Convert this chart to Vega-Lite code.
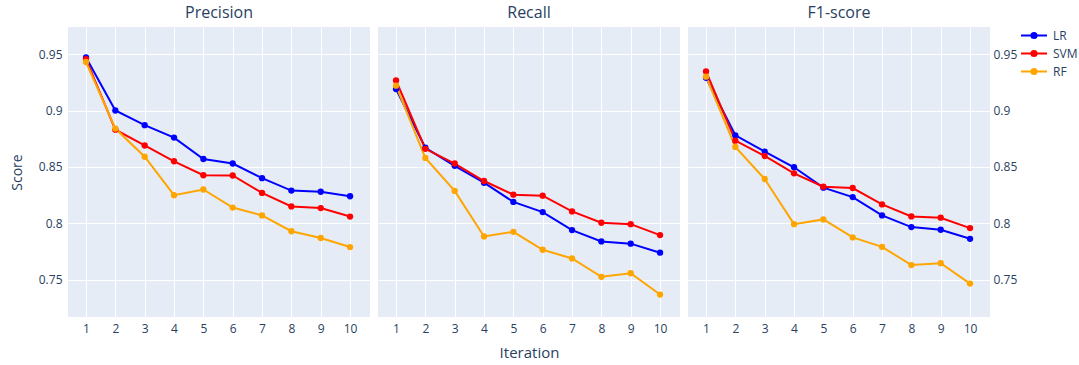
{
  "$schema": "https://vega.github.io/schema/vega-lite/v6.json",
  "background": "white",
  "padding": {"left": 10, "top": 5, "right": 0, "bottom": 0},
  "config": {
    "font": "Open Sans",
    "view": {"fill": "#E5ECF6", "stroke": null},
    "axis": {"domain": false, "ticks": false, "gridColor": "white", "gridWidth": 1, "labelColor": "#2a3f5f", "labelFontSize": 12, "titleColor": "#2a3f5f", "titleFontWeight": "normal", "labelFont": "Open Sans", "titleFont": "Open Sans"},
    "title": {"fontSize": 16, "fontWeight": "normal", "color": "#2a3f5f", "font": "Open Sans", "offset": 6},
    "legend": {"labelColor": "#2a3f5f", "labelFontSize": 12, "labelFont": "Open Sans"}
  },
  "data": {"values": [
    {"metric": "Precision", "model": "LR", "iteration": 1, "score": 0.947},
    {"metric": "Precision", "model": "LR", "iteration": 2, "score": 0.900},
    {"metric": "Precision", "model": "LR", "iteration": 3, "score": 0.887},
    {"metric": "Precision", "model": "LR", "iteration": 4, "score": 0.876},
    {"metric": "Precision", "model": "LR", "iteration": 5, "score": 0.857},
    {"metric": "Precision", "model": "LR", "iteration": 6, "score": 0.853},
    {"metric": "Precision", "model": "LR", "iteration": 7, "score": 0.840},
    {"metric": "Precision", "model": "LR", "iteration": 8, "score": 0.829},
    {"metric": "Precision", "model": "LR", "iteration": 9, "score": 0.828},
    {"metric": "Precision", "model": "LR", "iteration": 10, "score": 0.824},
    {"metric": "Precision", "model": "SVM", "iteration": 1, "score": 0.9456},
    {"metric": "Precision", "model": "SVM", "iteration": 2, "score": 0.883},
    {"metric": "Precision", "model": "SVM", "iteration": 3, "score": 0.869},
    {"metric": "Precision", "model": "SVM", "iteration": 4, "score": 0.855},
    {"metric": "Precision", "model": "SVM", "iteration": 5, "score": 0.8426},
    {"metric": "Precision", "model": "SVM", "iteration": 6, "score": 0.8424},
    {"metric": "Precision", "model": "SVM", "iteration": 7, "score": 0.827},
    {"metric": "Precision", "model": "SVM", "iteration": 8, "score": 0.815},
    {"metric": "Precision", "model": "SVM", "iteration": 9, "score": 0.8135},
    {"metric": "Precision", "model": "SVM", "iteration": 10, "score": 0.806},
    {"metric": "Precision", "model": "RF", "iteration": 1, "score": 0.943},
    {"metric": "Precision", "model": "RF", "iteration": 2, "score": 0.884},
    {"metric": "Precision", "model": "RF", "iteration": 3, "score": 0.859},
    {"metric": "Precision", "model": "RF", "iteration": 4, "score": 0.825},
    {"metric": "Precision", "model": "RF", "iteration": 5, "score": 0.830},
    {"metric": "Precision", "model": "RF", "iteration": 6, "score": 0.814},
    {"metric": "Precision", "model": "RF", "iteration": 7, "score": 0.807},
    {"metric": "Precision", "model": "RF", "iteration": 8, "score": 0.793},
    {"metric": "Precision", "model": "RF", "iteration": 9, "score": 0.787},
    {"metric": "Precision", "model": "RF", "iteration": 10, "score": 0.779},
    {"metric": "Recall", "model": "LR", "iteration": 1, "score": 0.919},
    {"metric": "Recall", "model": "LR", "iteration": 2, "score": 0.867},
    {"metric": "Recall", "model": "LR", "iteration": 3, "score": 0.851},
    {"metric": "Recall", "model": "LR", "iteration": 4, "score": 0.836},
    {"metric": "Recall", "model": "LR", "iteration": 5, "score": 0.819},
    {"metric": "Recall", "model": "LR", "iteration": 6, "score": 0.810},
    {"metric": "Recall", "model": "LR", "iteration": 7, "score": 0.794},
    {"metric": "Recall", "model": "LR", "iteration": 8, "score": 0.784},
    {"metric": "Recall", "model": "LR", "iteration": 9, "score": 0.782},
    {"metric": "Recall", "model": "LR", "iteration": 10, "score": 0.774},
    {"metric": "Recall", "model": "SVM", "iteration": 1, "score": 0.9266},
    {"metric": "Recall", "model": "SVM", "iteration": 2, "score": 0.866},
    {"metric": "Recall", "model": "SVM", "iteration": 3, "score": 0.853},
    {"metric": "Recall", "model": "SVM", "iteration": 4, "score": 0.8375},
    {"metric": "Recall", "model": "SVM", "iteration": 5, "score": 0.8254},
    {"metric": "Recall", "model": "SVM", "iteration": 6, "score": 0.8245},
    {"metric": "Recall", "model": "SVM", "iteration": 7, "score": 0.8106},
    {"metric": "Recall", "model": "SVM", "iteration": 8, "score": 0.8005},
    {"metric": "Recall", "model": "SVM", "iteration": 9, "score": 0.7993},
    {"metric": "Recall", "model": "SVM", "iteration": 10, "score": 0.7896},
    {"metric": "Recall", "model": "RF", "iteration": 1, "score": 0.922},
    {"metric": "Recall", "model": "RF", "iteration": 2, "score": 0.858},
    {"metric": "Recall", "model": "RF", "iteration": 3, "score": 0.8287},
    {"metric": "Recall", "model": "RF", "iteration": 4, "score": 0.7884},
    {"metric": "Recall", "model": "RF", "iteration": 5, "score": 0.7925},
    {"metric": "Recall", "model": "RF", "iteration": 6, "score": 0.7766},
    {"metric": "Recall", "model": "RF", "iteration": 7, "score": 0.7689},
    {"metric": "Recall", "model": "RF", "iteration": 8, "score": 0.7526},
    {"metric": "Recall", "model": "RF", "iteration": 9, "score": 0.7558},
    {"metric": "Recall", "model": "RF", "iteration": 10, "score": 0.7369},
    {"metric": "F1-score", "model": "LR", "iteration": 1, "score": 0.929},
    {"metric": "F1-score", "model": "LR", "iteration": 2, "score": 0.878},
    {"metric": "F1-score", "model": "LR", "iteration": 3, "score": 0.8636},
    {"metric": "F1-score", "model": "LR", "iteration": 4, "score": 0.8497},
    {"metric": "F1-score", "model": "LR", "iteration": 5, "score": 0.8316},
    {"metric": "F1-score", "model": "LR", "iteration": 6, "score": 0.8233},
    {"metric": "F1-score", "model": "LR", "iteration": 7, "score": 0.807},
    {"metric": "F1-score", "model": "LR", "iteration": 8, "score": 0.7967},
    {"metric": "F1-score", "model": "LR", "iteration": 9, "score": 0.7943},
    {"metric": "F1-score", "model": "LR", "iteration": 10, "score": 0.7863},
    {"metric": "F1-score", "model": "SVM", "iteration": 1, "score": 0.9346},
    {"metric": "F1-score", "model": "SVM", "iteration": 2, "score": 0.8733},
    {"metric": "F1-score", "model": "SVM", "iteration": 3, "score": 0.8597},
    {"metric": "F1-score", "model": "SVM", "iteration": 4, "score": 0.8443},
    {"metric": "F1-score", "model": "SVM", "iteration": 5, "score": 0.8325},
    {"metric": "F1-score", "model": "SVM", "iteration": 6, "score": 0.8313},
    {"metric": "F1-score", "model": "SVM", "iteration": 7, "score": 0.8168},
    {"metric": "F1-score", "model": "SVM", "iteration": 8, "score": 0.8061},
    {"metric": "F1-score", "model": "SVM", "iteration": 9, "score": 0.805},
    {"metric": "F1-score", "model": "SVM", "iteration": 10, "score": 0.7958},
    {"metric": "F1-score", "model": "RF", "iteration": 1, "score": 0.930},
    {"metric": "F1-score", "model": "RF", "iteration": 2, "score": 0.8677},
    {"metric": "F1-score", "model": "RF", "iteration": 3, "score": 0.8393},
    {"metric": "F1-score", "model": "RF", "iteration": 4, "score": 0.7993},
    {"metric": "F1-score", "model": "RF", "iteration": 5, "score": 0.8035},
    {"metric": "F1-score", "model": "RF", "iteration": 6, "score": 0.7875},
    {"metric": "F1-score", "model": "RF", "iteration": 7, "score": 0.7792},
    {"metric": "F1-score", "model": "RF", "iteration": 8, "score": 0.763},
    {"metric": "F1-score", "model": "RF", "iteration": 9, "score": 0.7647},
    {"metric": "F1-score", "model": "RF", "iteration": 10, "score": 0.7466}
  ]},
  "spacing": 8,
  "hconcat": [
    {
      "title": "Precision",
      "width": 302, "height": 290,
      "transform": [{"filter": "datum.metric == 'Precision'"}],
      "mark": {"type": "line", "strokeWidth": 2, "point": {"size": 40, "filled": true, "opacity": 1}},
      "encoding": {
        "x": {"field": "iteration", "type": "quantitative", "scale": {"domain": [0.386, 10.68], "nice": false, "zero": false}, "axis": {"values": [1,2,3,4,5,6,7,8,9,10], "title": null, "labelPadding": 6}},
        "y": {"field": "score", "type": "quantitative", "scale": {"domain": [0.717, 0.974], "nice": false, "zero": false}, "axis": {"values": [0.75, 0.8, 0.85, 0.9, 0.95], "format": "~g", "title": "Score", "titleFontSize": 14, "labelPadding": 6, "titlePadding": 14}},
        "color": {"field": "model", "type": "nominal", "scale": {"domain": ["LR", "SVM", "RF"], "range": ["#0000ff", "#ff0000", "#ffa500"]},
          "legend": {"title": null, "orient": "right", "offset": 3, "padding": 0, "symbolType": "M-1,0H1M-0.2,0A0.2,0.2,0,1,0,0.2,0A0.2,0.2,0,1,0,-0.2,0", "symbolSize": 676, "symbolStrokeWidth": 2, "rowPadding": 1, "clipHeight": 17, "labelOffset": 5,
            "encode": {"symbols": {"update": {"fill": {"scale": "color", "field": "value"}}}}}}
      }
    },
    {
      "title": "Recall",
      "width": 302, "height": 290,
      "transform": [{"filter": "datum.metric == 'Recall'"}],
      "mark": {"type": "line", "strokeWidth": 2, "point": {"size": 40, "filled": true, "opacity": 1}},
      "encoding": {
        "x": {"field": "iteration", "type": "quantitative", "scale": {"domain": [0.386, 10.68], "nice": false, "zero": false}, "axis": {"values": [1,2,3,4,5,6,7,8,9,10], "title": "Iteration", "titleFontSize": 15, "labelPadding": 6, "titlePadding": 11}},
        "y": {"field": "score", "type": "quantitative", "scale": {"domain": [0.717, 0.974], "nice": false, "zero": false}, "axis": {"values": [0.75, 0.8, 0.85, 0.9, 0.95], "labels": false, "title": null}},
        "color": {"field": "model", "type": "nominal"}
      }
    },
    {
      "title": "F1-score",
      "width": 302, "height": 290,
      "transform": [{"filter": "datum.metric == 'F1-score'"}],
      "mark": {"type": "line", "strokeWidth": 2, "point": {"size": 40, "filled": true, "opacity": 1}},
      "encoding": {
        "x": {"field": "iteration", "type": "quantitative", "scale": {"domain": [0.386, 10.68], "nice": false, "zero": false}, "axis": {"values": [1,2,3,4,5,6,7,8,9,10], "title": null, "labelPadding": 6}},
        "y": {"field": "score", "type": "quantitative", "scale": {"domain": [0.717, 0.974], "nice": false, "zero": false}, "axis": {"orient": "right", "values": [0.75, 0.8, 0.85, 0.9, 0.95], "format": "~g", "title": null, "labelPadding": 3}},
        "color": {"field": "model", "type": "nominal"}
      }
    }
  ]
}
